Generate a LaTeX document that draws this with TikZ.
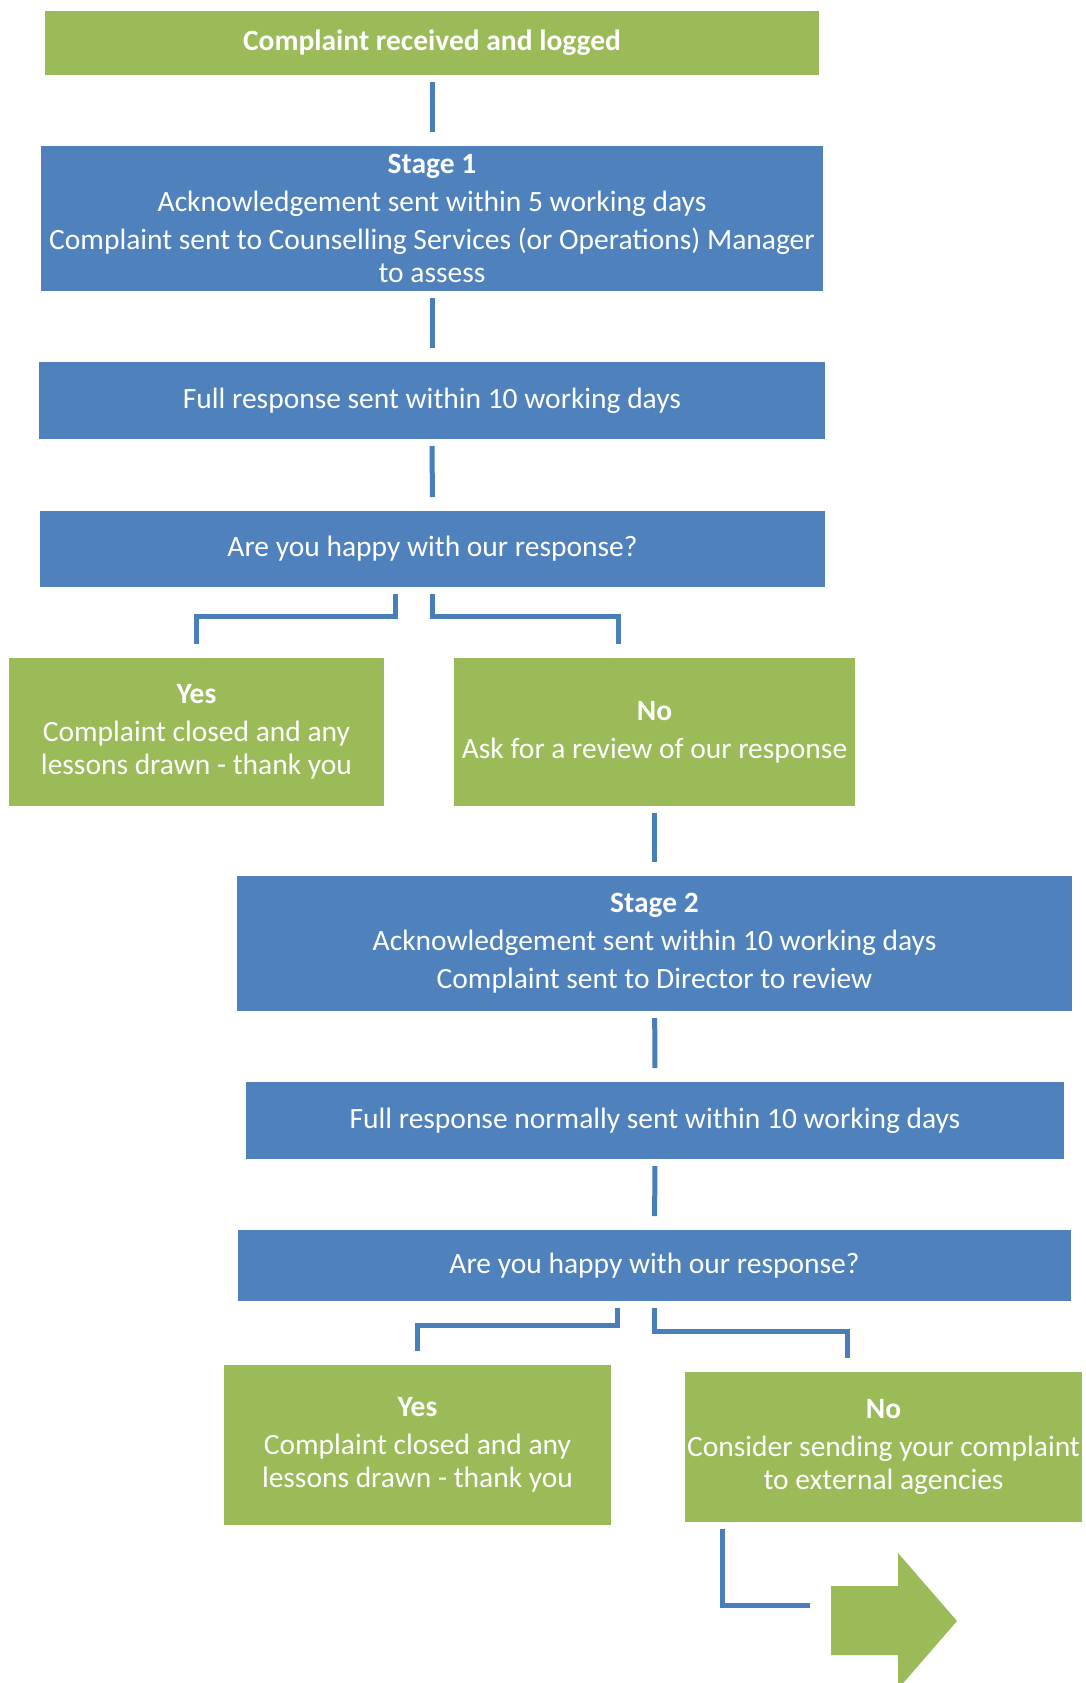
\documentclass[tikz,border=0pt]{standalone}
\usepackage{fontspec}
\setmainfont{Carlito}
\usetikzlibrary{positioning}
\definecolor{boxgreen}{HTML}{9BBB59}
\definecolor{boxblue}{HTML}{4F81BD}
\definecolor{lineblue}{HTML}{4A7EBB}

\begin{document}
\begin{tikzpicture}[x=1pt,y=-1pt,
	greenbox/.style={fill=boxgreen,text=white,outer sep=0pt,inner sep=0pt,align=center,font=\fontsize{29.5}{32.5}\selectfont},
	bluebox/.style={fill=boxblue,text=white,outer sep=0pt,inner sep=0pt,align=center,font=\fontsize{29.5}{32.5}\selectfont},
	link/.style={draw=lineblue,line width=5pt,shorten <=7pt,shorten >=14pt}]
	\useasboundingbox (0,0) rectangle (1085,1683);

	\node [greenbox,minimum width=774pt,minimum height=64pt] at (432,43) (recv) {\textbf{Complaint received and logged}};
	\node [bluebox,minimum width=782pt,minimum height=145pt] at (432,218.5) (stage1) {\textbf{Stage 1}\\[5.5pt] Acknowledgement sent within 5 working days\\[5.5pt] Complaint sent to Counselling Services (or Operations) Manager\\ to assess};
	\node [bluebox,minimum width=786pt,minimum height=77pt] at (432,400.5) (resp1) {Full response sent within 10 working days};
	\node [bluebox,minimum width=785pt,minimum height=76pt] at (432.5,549) (happy1) {Are you happy with our response?};

	\node [greenbox,minimum width=375pt,minimum height=148pt] at (196.5,732) (yes1) {\textbf{Yes}\\[5.5pt] Complaint closed and any\\ lessons drawn - thank you};
	\node [greenbox,minimum width=401pt,minimum height=148pt] at (654.5,732) (no1) {\textbf{No}\\[5.5pt] Ask for a review of our response};

	\node [bluebox,minimum width=835pt,minimum height=135pt] at (654.5,943.5) (stage2) {\textbf{Stage 2}\\[5.5pt] Acknowledgement sent within 10 working days\\[5.5pt] Complaint sent to Director to review};
	\node [bluebox,minimum width=818pt,minimum height=77pt] at (655,1120.5) (resp2) {Full response normally sent within 10 working days};
	\node [bluebox,minimum width=833pt,minimum height=71pt] at (654.5,1265.5) (happy2) {Are you happy with our response?};

	\node [greenbox,minimum width=387pt,minimum height=160pt] at (417.5,1445) (yes2) {\textbf{Yes}\\[5.5pt] Complaint closed and any\\ lessons drawn - thank you};
	\node [greenbox,minimum width=397pt,minimum height=150pt] at (883.5,1447) (no2) {\textbf{No}\\[5.5pt] Consider sending your complaint\\ to external agencies};

	% way out
	\fill [boxgreen] (831,1586) -- (898,1586) -- (898,1553) -- (957,1621) -- (898,1689) -- (898,1655) -- (831,1655) -- cycle;
	\coordinate (exit_arrow) at (831,1605);

	\draw[link] (recv) -- (stage1);
	\draw[link] (stage1) -- (resp1);
	\draw[link] (resp1) -- (happy1);
	\draw[link] ([xshift=-37pt]happy1.south) -- ++(0,29) -| (yes1.north);
	\draw[link] (happy1.south) -- ++(0,29) -| ([xshift=-36pt]no1.north);
	\draw[link] (no1) -- (stage2);

	\draw[link] (stage2) -- (resp2);
	\draw[link] (resp2) -- (happy2);
	\draw[link] ([xshift=-37pt]happy2.south) -- ++(0,24) -| (yes2.north);
	\draw[link] (happy2.south) -- ++(0,30) -| ([xshift=-36pt]no2.north);
	\draw[link,shorten >=21pt] ([xshift=-161.5pt]no2.south) |- (exit_arrow);
\end{tikzpicture}
\end{document}
